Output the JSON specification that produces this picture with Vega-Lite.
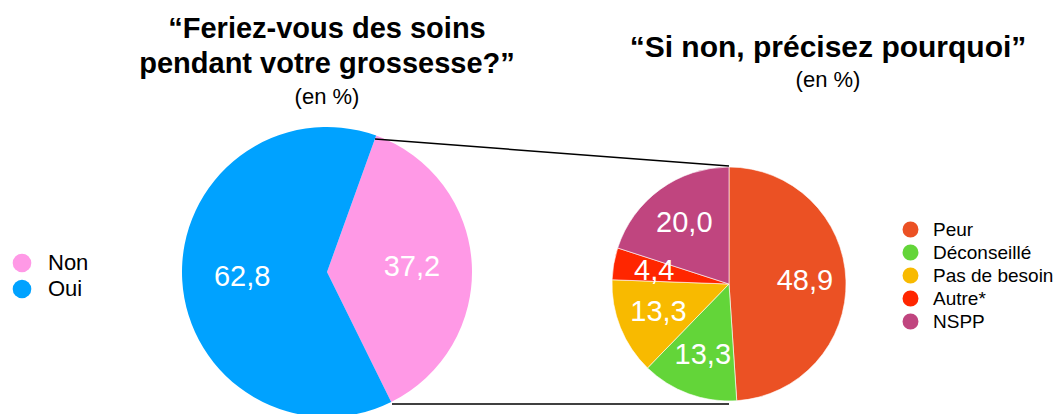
{
  "$schema": "https://vega.github.io/schema/vega-lite/v6.json",
  "width": 1057,
  "height": 414,
  "autosize": {"type": "none"},
  "padding": 0,
  "background": "white",
  "config": {
    "view": {"stroke": null},
    "font": "Liberation Sans",
    "locale": {"number": {"decimal": ",", "thousands": " ", "grouping": [3], "currency": ["", " €"]}}
  },
  "data": {
    "values": [
      {"question": "Q1", "reponse": "Non", "pct": 37.2, "ordre": 1},
      {"question": "Q1", "reponse": "Oui", "pct": 62.8, "ordre": 2},
      {"question": "Q2", "reponse": "Peur", "pct": 48.9, "ordre": 1},
      {"question": "Q2", "reponse": "Déconseillé", "pct": 13.3, "ordre": 2},
      {"question": "Q2", "reponse": "Pas de besoin", "pct": 13.3, "ordre": 3},
      {"question": "Q2", "reponse": "Autre*", "pct": 4.4, "ordre": 4},
      {"question": "Q2", "reponse": "NSPP", "pct": 20.0, "ordre": 5}
    ]
  },
  "layer": [
    {
      "transform": [{"filter": "datum.question === 'Q1'"}],
      "encoding": {
        "x": {"field": "question", "type": "nominal", "scale": {"type": "point", "domain": ["Q1", "Q2"], "range": [327, 729], "padding": 0}, "axis": null},
        "y": {"field": "question", "type": "nominal", "scale": {"type": "point", "domain": ["Q1", "Q2"], "range": [272, 284], "padding": 0}, "axis": null},
        "theta": {"field": "pct", "type": "quantitative", "stack": true, "scale": {"range": [0.3456, 6.6288]}},
        "order": {"field": "ordre", "type": "quantitative"}
      },
      "layer": [
        {
          "mark": {"type": "arc", "outerRadius": 145},
          "encoding": {
            "color": {
              "field": "reponse", "type": "nominal",
              "scale": {"domain": ["Non", "Oui"], "range": ["#FF99E6", "#00A2FF"]},
              "legend": {"orient": "none", "legendX": 11, "legendY": 252, "title": null, "symbolType": "circle", "symbolSize": 346, "symbolStrokeWidth": 0, "symbolOpacity": 1, "labelFontSize": 22, "labelFont": "Liberation Sans", "labelColor": "black", "labelOffset": 15, "rowPadding": 4, "padding": 0}
            }
          }
        },
        {
          "mark": {"type": "text", "radius": 85, "fontSize": 29, "font": "Liberation Sans", "align": "center", "baseline": "middle"},
          "encoding": {
            "detail": {"field": "reponse", "type": "nominal"},
            "color": {"value": "white"},
            "text": {"field": "pct", "type": "quantitative", "format": ".1f"}
          }
        }
      ]
    },
    {
      "transform": [{"filter": "datum.question === 'Q2'"}],
      "encoding": {
        "x": {"field": "question", "type": "nominal", "axis": null},
        "y": {"field": "question", "type": "nominal", "axis": null},
        "theta": {"field": "pct", "type": "quantitative", "stack": true},
        "order": {"field": "ordre", "type": "quantitative"}
      },
      "layer": [
        {
          "mark": {"type": "arc", "outerRadius": 117, "stroke": "#ffffff", "strokeWidth": 1, "strokeOpacity": 0.6},
          "encoding": {
            "color": {
              "field": "reponse", "type": "nominal",
              "scale": {"domain": ["Peur", "Déconseillé", "Pas de besoin", "Autre*", "NSPP"], "range": ["#EB5124", "#63D539", "#F8BA00", "#FF2600", "#C0457F"]},
              "legend": {"orient": "none", "legendX": 901, "legendY": 220, "title": null, "symbolType": "circle", "symbolSize": 254, "symbolStrokeWidth": 0, "symbolOpacity": 1, "labelFontSize": 19, "labelFont": "Liberation Sans", "labelColor": "black", "labelOffset": 13, "rowPadding": 3, "padding": 0}
            }
          }
        },
        {
          "mark": {"type": "text", "radius": 76, "fontSize": 29, "font": "Liberation Sans", "align": "center", "baseline": "middle"},
          "encoding": {
            "detail": {"field": "reponse", "type": "nominal"},
            "color": {"value": "white"},
            "text": {"field": "pct", "type": "quantitative", "format": ".1f"}
          }
        }
      ]
    },
    {
      "data": {"values": [{}]},
      "mark": {"type": "rule", "color": "black", "strokeWidth": 1.5, "xOffset": 48, "yOffset": -133, "x2Offset": 0, "y2Offset": -118},
      "encoding": {
        "x": {"datum": "Q1", "type": "nominal"},
        "x2": {"datum": "Q2"},
        "y": {"datum": "Q1", "type": "nominal"},
        "y2": {"datum": "Q2"}
      }
    },
    {
      "data": {"values": [{}]},
      "mark": {"type": "rule", "color": "black", "strokeWidth": 1.5, "xOffset": 65, "yOffset": 132, "x2Offset": 0, "y2Offset": 120},
      "encoding": {
        "x": {"datum": "Q1", "type": "nominal"},
        "x2": {"datum": "Q2"},
        "y": {"datum": "Q1", "type": "nominal"},
        "y2": {"datum": "Q2"}
      }
    },
    {
      "data": {"values": [{}]},
      "mark": {"type": "text", "text": ["“Feriez-vous des soins", "pendant votre grossesse?”"], "font": "Liberation Sans", "fontWeight": "bold", "fontSize": 29, "lineHeight": 35, "align": "center", "baseline": "alphabetic", "dy": -234, "color": "black"},
      "encoding": {"x": {"datum": "Q1", "type": "nominal"}, "y": {"datum": "Q1", "type": "nominal"}}
    },
    {
      "data": {"values": [{}]},
      "mark": {"type": "text", "text": "(en %)", "font": "Liberation Sans", "fontSize": 22, "align": "center", "baseline": "alphabetic", "dy": -168, "color": "black"},
      "encoding": {"x": {"datum": "Q1", "type": "nominal"}, "y": {"datum": "Q1", "type": "nominal"}}
    },
    {
      "data": {"values": [{}]},
      "mark": {"type": "text", "text": "“Si non, précisez pourquoi”", "font": "Liberation Sans", "fontWeight": "bold", "fontSize": 30, "align": "center", "baseline": "alphabetic", "dx": 99, "dy": -227, "color": "black"},
      "encoding": {"x": {"datum": "Q2", "type": "nominal"}, "y": {"datum": "Q2", "type": "nominal"}}
    },
    {
      "data": {"values": [{}]},
      "mark": {"type": "text", "text": "(en %)", "font": "Liberation Sans", "fontSize": 22, "align": "center", "baseline": "alphabetic", "dx": 99, "dy": -197, "color": "black"},
      "encoding": {"x": {"datum": "Q2", "type": "nominal"}, "y": {"datum": "Q2", "type": "nominal"}}
    }
  ],
  "resolve": {"scale": {"theta": "independent", "color": "independent"}}
}
